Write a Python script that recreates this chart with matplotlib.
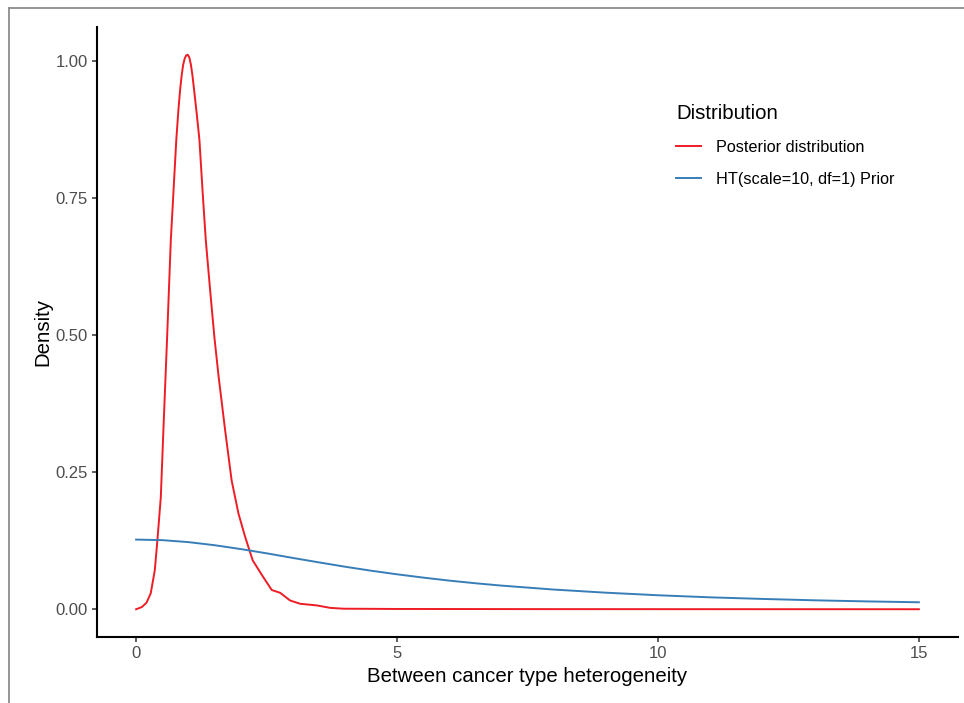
import matplotlib.pyplot as plt
from matplotlib.lines import Line2D

plt.rcParams['font.family'] = ['Liberation Sans', 'DejaVu Sans']

# values
posterior_x = [0.0, 0.11, 0.2, 0.28, 0.358, 0.408, 0.473, 0.523, 0.594, 0.665,
               0.715, 0.77, 0.81, 0.843, 0.875, 0.9, 0.93, 0.96, 0.99, 1.02,
               1.05, 1.08, 1.111, 1.16, 1.213, 1.275, 1.335, 1.42, 1.50, 1.58,
               1.705, 1.83, 1.96, 2.08, 2.17, 2.235, 2.44, 2.6, 2.76, 2.95,
               3.14, 3.46, 3.72, 3.97, 5.0, 8.0, 15.0]
posterior_y = [0.0, 0.004, 0.012, 0.029, 0.071, 0.126, 0.204, 0.327, 0.496, 0.673,
               0.76, 0.856, 0.91, 0.947, 0.975, 0.992, 1.004, 1.01, 1.011, 1.006,
               0.993, 0.973, 0.947, 0.905, 0.856, 0.76, 0.673, 0.58, 0.496, 0.425,
               0.327, 0.235, 0.175, 0.135, 0.108, 0.089, 0.058, 0.035, 0.03, 0.016,
               0.010, 0.007, 0.0025, 0.001, 0.0005, 0.0002, 0.0]

prior_x = [0, 0.5, 1, 1.5, 2, 2.5, 3, 3.5, 4, 4.5, 5, 5.5, 6, 6.5, 7, 8, 9,
           10, 11, 12, 13, 14, 15]
prior_y = [0.127, 0.126, 0.1224, 0.1168, 0.1098, 0.1020, 0.0936, 0.0855, 0.0776,
           0.0703, 0.0637, 0.0577, 0.0522, 0.0474, 0.0431, 0.0359, 0.0302,
           0.0255, 0.0217, 0.0188, 0.0163, 0.0143, 0.0127]

labels = ['Posterior distribution', 'HT(scale=10, df=1) Prior']
colors = ['#EE1C25', '#377EB8']

fig = plt.figure(figsize=(9.64, 7.03), dpi=100)
ax = fig.add_axes([0.1006, 0.0939, 0.8932, 0.8677])

ax.plot(posterior_x, posterior_y, color=colors[0], lw=1.4, label=labels[0])
ax.plot(prior_x, prior_y, color=colors[1], lw=1.4, label=labels[1])

ax.set_xlim(-0.75, 15.75)
ax.set_ylim(-0.0506, 1.0617)
ax.set_xticks([0, 5, 10, 15])
ax.set_yticks([0, 0.25, 0.5, 0.75, 1.0])
ax.set_yticklabels(['0.00', '0.25', '0.50', '0.75', '1.00'])

for s in ['top', 'right']:
    ax.spines[s].set_visible(False)
for s in ['left', 'bottom']:
    ax.spines[s].set_linewidth(1.5)
    ax.spines[s].set_color('black')
ax.tick_params(length=3.5, width=1.1, color='#333333', labelcolor='#4D4D4D',
               labelsize=12, pad=3)

ax.set_xlabel('Between cancer type heterogeneity', fontsize=14.7, color='black', labelpad=4)
ax.set_ylabel('Density', fontsize=14.7, color='black', labelpad=2)

leg = ax.legend(title='Distribution', loc='upper left',
                bbox_to_anchor=(676 / 964, 1 - 104 / 703), bbox_transform=fig.transFigure,
                frameon=False, fontsize=11.7, title_fontsize=14.7, handlelength=1.55,
                handletextpad=0.9, labelspacing=1.05, borderpad=0, borderaxespad=0)
leg._legend_box.align = 'left'

# grey frame around the picture
fig.add_artist(Line2D([9 / 964, 9 / 964], [0, 1 - 8 / 703], color='#8C8C8C', lw=1.3))
fig.add_artist(Line2D([9 / 964, 1], [1 - 8 / 703, 1 - 8 / 703], color='#8C8C8C', lw=1.3))

fig.savefig('out.png', dpi=100)
